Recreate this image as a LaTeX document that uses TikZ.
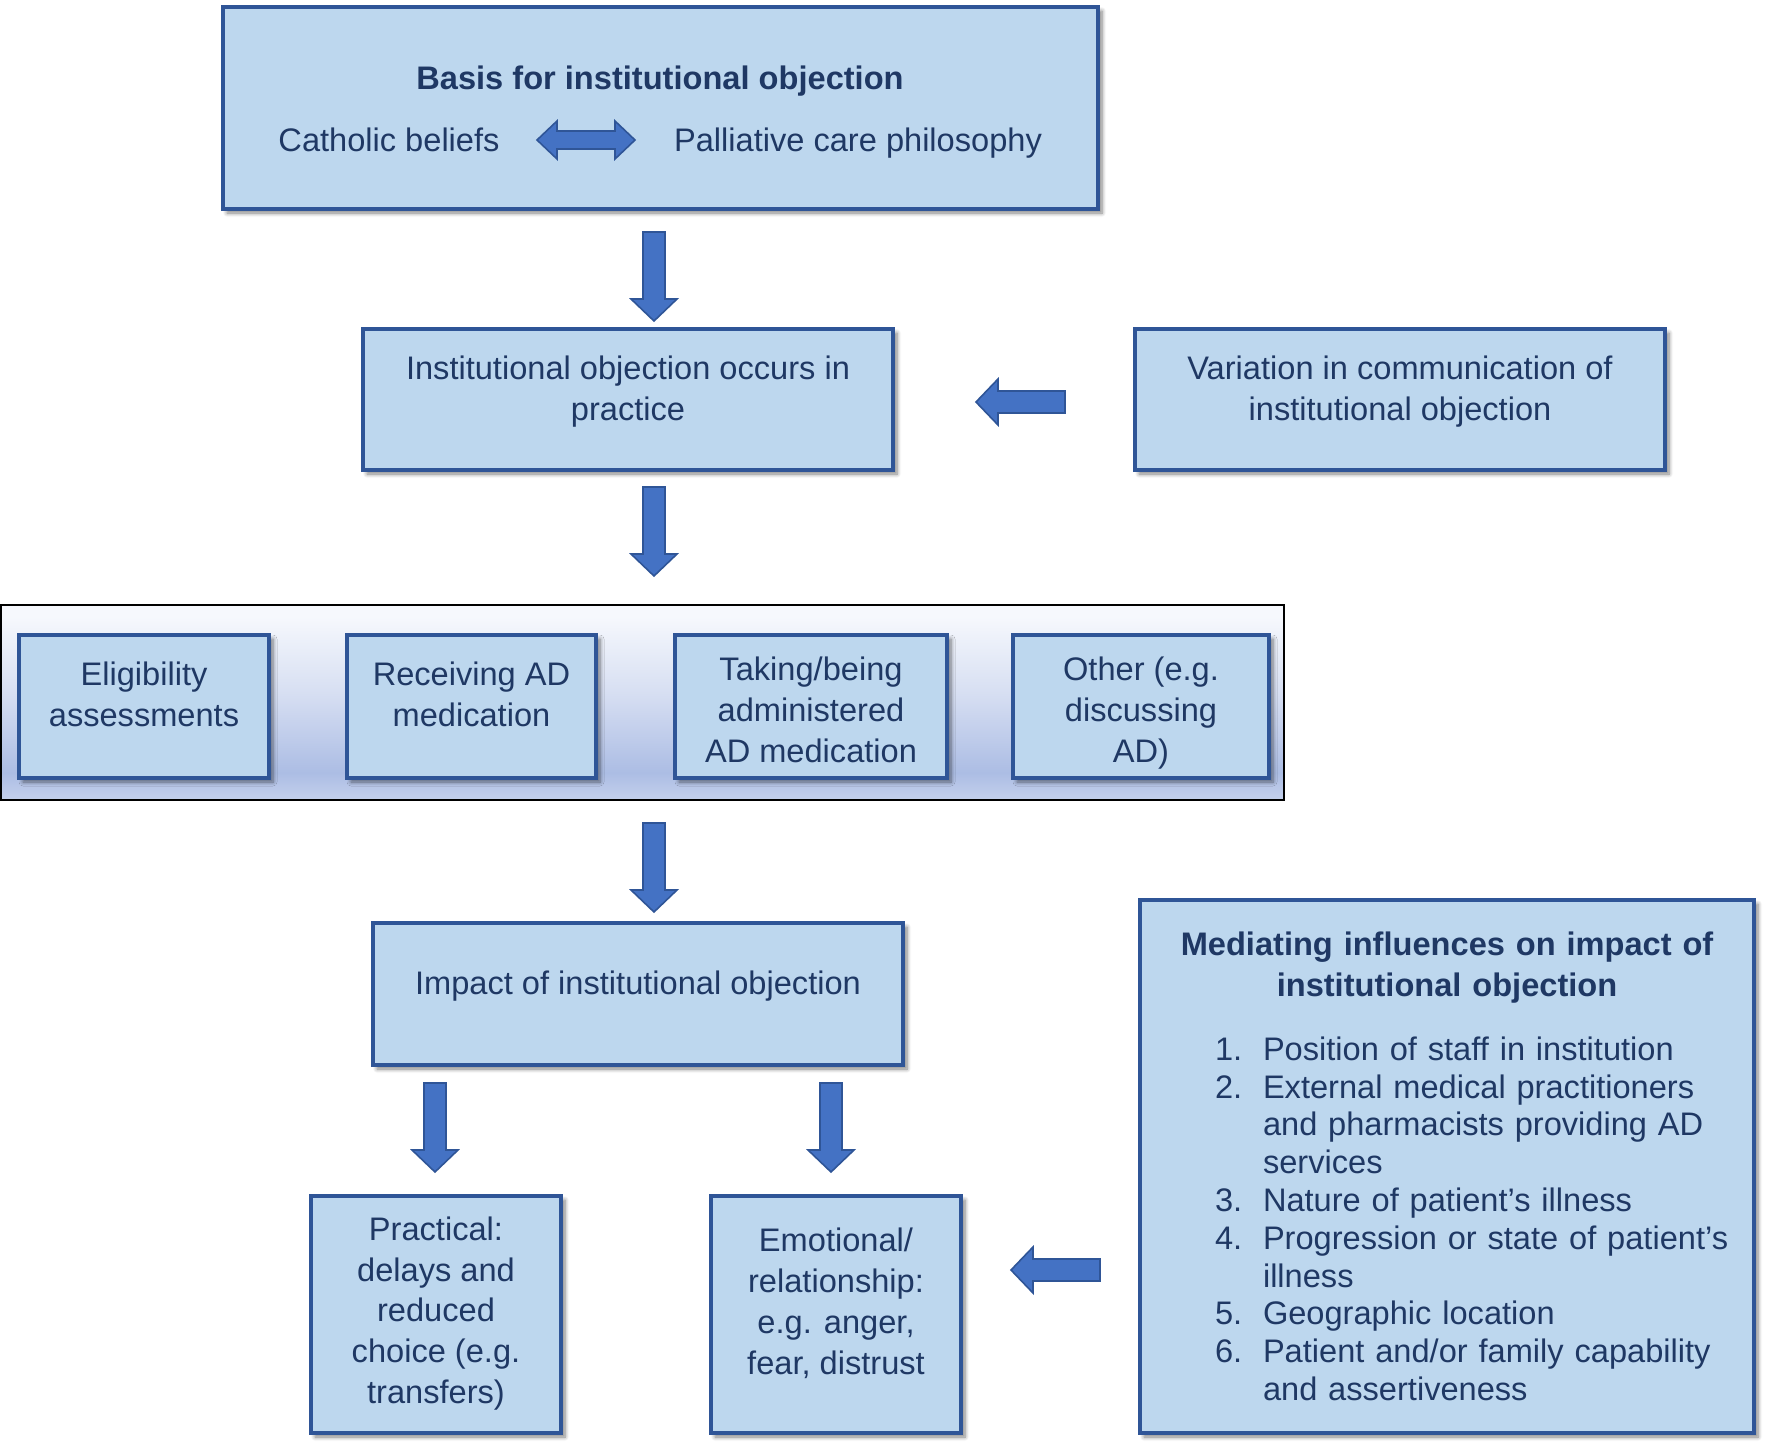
\documentclass[tikz,border=0pt]{standalone}
\usepackage{fontspec}
\setmainfont{Liberation Sans}
\usetikzlibrary{shadows.blur}

\definecolor{boxfill}{RGB}{189,215,238}
\definecolor{boxline}{RGB}{47,85,151}
\definecolor{textnavy}{RGB}{31,56,100}
\definecolor{arrowfill}{RGB}{68,114,196}
\definecolor{striptop}{RGB}{246,248,253}
\definecolor{stripmid}{RGB}{214,222,242}
\definecolor{stripdark}{RGB}{172,189,228}
\definecolor{stripbot}{RGB}{196,208,236}
\pgfdeclareverticalshading{stripshade}{100bp}{color(0bp)=(stripbot); color(25bp)=(stripbot); color(32bp)=(stripdark); color(52bp)=(stripmid); color(72bp)=(striptop); color(100bp)=(striptop)}

% numbered line with hanging indent
\newcommand{\medItem}[2]{\par\noindent\hangindent=24pt\hangafter=1\makebox[24pt][l]{#1}#2}

\tikzset{
  box/.style={draw=boxline, fill=boxfill, line width=2.2pt, text=textnavy, align=center, inner sep=0pt,
    font=\fontsize{16.3}{20.4}\selectfont,
    blur shadow={shadow xshift=2pt, shadow yshift=-2pt, shadow blur radius=2pt, shadow blur steps=6, shadow opacity=50}},
  plain/.style={text=textnavy, inner sep=0pt, align=center, font=\fontsize{16.3}{20.4}\selectfont},
  arrowbody/.style={draw=boxline, fill=arrowfill, line width=0.8pt, line join=miter},
  blockarrow/.pic={\draw[arrowbody] (0,-11) -- (67,-11) -- (67,-23) -- (89,0) -- (67,23) -- (67,11) -- (0,11) -- cycle;},
  twinarrow/.pic={\draw[arrowbody] (0,0) -- (20,-19) -- (20,-9) -- (78,-9) -- (78,-19) -- (98,0) -- (78,19) -- (78,9) -- (20,9) -- (20,19) -- cycle;}
}

\begin{document}
\begin{tikzpicture}[x=0.5pt, y=-0.5pt]
  \useasboundingbox (0,0) rectangle (1772,1451);

  % basis
  \node[box, minimum width=437.5pt, minimum height=101pt] (basis) at (660.5,108) {};
  \node[plain, font=\fontsize{16.3}{20.4}\selectfont\bfseries] (basistitle) at (660,81.4) {Basis for institutional objection};
  \node[plain] (catholic) at (389,140) {Catholic beliefs};
  \node[plain] (palliative) at (858,143.4) {Palliative care philosophy};
  \pic at (537,140) {twinarrow};

  \pic[rotate=-90] at (654,232) {blockarrow};

  \node[box, minimum width=265pt, minimum height=70.5pt] (practice) at (628,399.5) {};
  \node[plain] (practicetxt) at (628,391.7) {Institutional objection occurs in\\practice};
  \node[box, minimum width=265pt, minimum height=70.5pt] (variation) at (1400,399.5) {};
  \node[plain] (variationtxt) at (1400,391.7) {Variation in communication of\\institutional objection};
  \pic[rotate=180] at (1065,402) {blockarrow};

  \pic[rotate=-90] at (654,487) {blockarrow};

  % kinds of objection
  \node[draw=black, line width=1pt, shading=stripshade, minimum width=641.5pt, minimum height=97.5pt] (stages) at (642.5,702.5) {};
  \node[box, minimum width=125pt, minimum height=71.5pt] (elig) at (144,706.5) {};
  \node[plain] (eligtxt) at (144,694.1) {Eligibility\\assessments};
  \node[box, minimum width=124.5pt, minimum height=71.5pt] (receiving) at (471.5,706.5) {};
  \node[plain] (receivingtxt) at (471.5,694.1) {Receiving AD\\medication};
  \node[box, minimum width=136pt, minimum height=71.5pt] (taking) at (811,706.5) {};
  \node[plain] (takingtxt) at (811,709.9) {Taking/being\\administered\\AD medication};
  \node[box, minimum width=128pt, minimum height=71.5pt] (other) at (1141,706.5) {};
  \node[plain] (othertxt) at (1141,712.9) {Other (e.g.\\discussing\\AD)};

  \pic[rotate=-90] at (654,823) {blockarrow};

  \node[box, minimum width=265pt, minimum height=71pt] (impact) at (638,994) {};
  \node[plain] (impacttxt) at (638,986.1) {Impact of institutional objection};
  \pic[rotate=-90] at (435,1083) {blockarrow};
  \pic[rotate=-90] at (831,1083) {blockarrow};

  \node[box, minimum width=125pt, minimum height=118.5pt] (practical) at (436,1314.5) {};
  \node[plain] (practicaltxt) at (436,1313.4) {Practical:\\delays and\\reduced\\choice (e.g.\\transfers)};
  \node[box, minimum width=125pt, minimum height=118.5pt] (emotional) at (836,1314.5) {};
  \node[plain] (emotionaltxt) at (836,1303.2) {Emotional/\\relationship:\\e.g. anger,\\fear, distrust};
  \pic[rotate=180] at (1100,1270) {blockarrow};

  \node[box, minimum width=307pt, minimum height=266.5pt, text width=290pt, inner xsep=8.5pt, align=left] (mediating) at (1447,1166.5) {%
    {\bfseries\centering Mediating influences on impact of\\institutional objection\par}
    \vspace{13pt}\fontsize{16.3}{18.9}\selectfont\leftskip=29pt
    \medItem{1.}{Position of staff in institution}
    \medItem{2.}{External medical practitioners\newline and pharmacists providing AD\newline services}
    \medItem{3.}{Nature of patient’s illness}
    \medItem{4.}{Progression or state of patient’s\newline illness}
    \medItem{5.}{Geographic location}
    \medItem{6.}{Patient and/or family capability\newline and assertiveness}\par};
\end{tikzpicture}
\end{document}
